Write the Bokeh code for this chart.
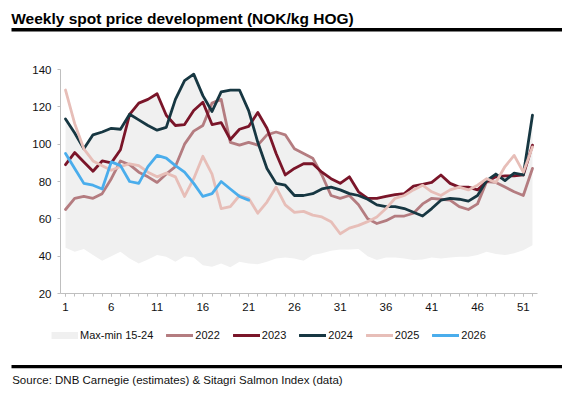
from bokeh.plotting import figure
from bokeh.models import (Range1d, FixedTicker, Legend, LegendItem, Label,
                          BoxAnnotation, LinearAxis)
from bokeh.embed import file_html
from bokeh.resources import INLINE

# ---------------- data ----------------
weeks = list(range(1, 53))
weeks_2026 = list(range(1, 22))
x_tick_weeks = [1, 6, 11, 16, 21, 26, 31, 36, 41, 46, 51]
y_ticks = [20, 40, 60, 80, 100, 120, 140]

band_min = [44.5, 42.3, 43.8, 40.6, 37.5, 40.0, 42.3, 38.8, 36.1, 38.2,
            40.6, 39.7, 37.0, 40.0, 39.3, 35.2, 34.3, 36.1, 34.0, 37.0,
            36.1, 35.7, 37.0, 38.8, 39.3, 38.8, 37.5, 40.6, 41.5, 42.9,
            43.6, 43.6, 43.9, 40.0, 37.9, 39.3, 39.3, 38.8, 37.9, 38.2,
            39.3, 38.8, 39.3, 39.7, 39.7, 40.6, 42.3, 41.1, 40.6, 41.5,
            43.2, 45.9]
band_max = [113.5, 106, 97.5, 105, 106.5, 108.5, 108, 116, 122, 124,
            127, 115.5, 124, 134, 137.5, 126, 122, 128, 129, 129,
            118, 117, 108.5, 106.5, 105, 97.5, 95, 92.5, 85, 81.5,
            79, 82.5, 74.5, 71, 71, 72, 73, 73.5, 77.5, 78.5,
            79.5, 83.5, 79, 77, 77, 75.5, 80.5, 84, 83, 84.5,
            83.5, 115.5]
y2022 = [65, 71, 72, 71, 73.5, 81.5, 91, 89, 85, 82.5,
         79.5, 84, 88, 100, 107, 110, 122, 124, 101, 99.5,
         101, 99.5, 105, 106.5, 105, 97.5, 95, 92.5, 83.5, 72.5,
         71, 72.5, 67.5, 60, 57.5, 59, 61.5, 61.5, 63, 68,
         71, 70.5, 70, 66.5, 65, 68, 80, 79.5, 77, 74.5,
         72.5, 87]
y2023 = [89, 95.5, 90.5, 85.5, 91, 90, 97, 116, 122, 124,
         127, 115.5, 110, 110.5, 118, 122.5, 110.5, 111.5, 102.5, 108,
         109.5, 117, 108.5, 95, 83.5, 87, 89.5, 89.5, 85, 81.5,
         79, 82.5, 74.5, 71, 71, 72, 73, 73.5, 77.5, 78.5,
         79.5, 83.5, 79, 77, 77, 75.5, 80, 82.5, 83, 83,
         83.5, 99.5]
y2024 = [113.5, 106, 97.5, 105, 106.5, 108.5, 108, 116, 113, 110,
         107.5, 109, 124, 134, 137.5, 126, 117.5, 128, 129, 129,
         118, 101, 87, 79, 78, 72.5, 72.5, 73.5, 76, 77,
         75.5, 73.5, 72.5, 70.5, 67.5, 66.5, 66.5, 65.5, 63.5, 61.5,
         65.5, 70, 71, 70.5, 69.5, 72.5, 80.5, 84, 80.5, 84.5,
         83.5, 115.5]
y2025 = [129, 111, 97.5, 91, 88.5, 86, 88, 89.5, 88.5, 85,
         82.5, 84.5, 82.5, 72, 81.5, 93.5, 84, 65.5, 66.5, 72.5,
         71, 63, 69, 77, 67.5, 63.5, 64, 62, 61, 58.5,
         52, 55, 56.5, 58.5, 61, 65.5, 71, 72.5, 75.5, 78,
         74.5, 72.5, 75.5, 77, 75.5, 78, 81.5, 79.5, 88, 94,
         85, 98.5]
y2026 = [95, 87, 79, 78, 76, 90.5, 88.5, 80, 79, 88,
         94, 92.5, 88.5, 85, 79, 72, 73.5, 80, 76, 72,
         70]

# ---------------- layout / styles ----------------
FONT = "Liberation Sans"
C_BAND = "#F0F0F0"
C22 = "#B47C80"
C23 = "#7A1529"
C24 = "#173742"
C25 = "#E7BEB8"
C26 = "#4AADEC"
AXIS_C = "#BFBFBF"
LW = 2.8

W, H = 562, 407
X0, X1 = 0.45, 52.55          # data extent of the plotting area
Y0, Y1 = 20, 140
PX_L, PX_R = 60, 537          # pixel position of the plotting area
PX_T, PX_B = 69, 293
sx = (PX_R - PX_L) / (X1 - X0)
sy = (PX_B - PX_T) / (Y1 - Y0)
x_range = Range1d(X0 - PX_L / sx, X1 + (W - PX_R) / sx)
y_range = Range1d(Y0 - (H - PX_B) / sy, Y1 + PX_T / sy)

p = figure(width=W, height=H, x_range=x_range, y_range=y_range,
           output_backend="svg", toolbar_location=None,
           x_axis_location=None, y_axis_location=None, min_border=0)
p.outline_line_color = None
p.grid.visible = False

r_band = p.varea(x=weeks, y1=band_min, y2=band_max, color=C_BAND)
r_band_key = p.line(weeks, band_min, line_color=C_BAND, line_width=7, visible=False)
r22 = p.line(weeks, y2022, line_color=C22, line_width=LW, line_join="round", line_cap="round")
r23 = p.line(weeks, y2023, line_color=C23, line_width=LW, line_join="round", line_cap="round")
r24 = p.line(weeks, y2024, line_color=C24, line_width=LW, line_join="round", line_cap="round")
r25 = p.line(weeks, y2025, line_color=C25, line_width=LW, line_join="round", line_cap="round")
r26 = p.line(weeks_2026, y2026, line_color=C26, line_width=LW, line_join="round", line_cap="round")

xaxis = LinearAxis(ticker=FixedTicker(ticks=x_tick_weeks, minor_ticks=weeks),
                   fixed_location=Y0, bounds=(X0, X1))
yaxis = LinearAxis(ticker=FixedTicker(ticks=y_ticks, minor_ticks=[]),
                   fixed_location=X0, bounds=(Y0, Y1))
for ax in (xaxis, yaxis):
    ax.axis_line_color = AXIS_C
    ax.major_tick_line_color = AXIS_C
    ax.minor_tick_line_color = AXIS_C
    ax.major_tick_in = 0
    ax.major_tick_out = 3
    ax.minor_tick_in = 0
    ax.minor_tick_out = 3
    ax.major_label_text_font = FONT
    ax.major_label_text_font_size = "11.5px"
    ax.major_label_text_color = "#111111"
    ax.major_label_standoff = 6
p.add_layout(xaxis, "below")
p.add_layout(yaxis, "left")

legend = Legend(items=[LegendItem(label="Max-min 15-24", renderers=[r_band_key]),
                       LegendItem(label="2022", renderers=[r22]),
                       LegendItem(label="2023", renderers=[r23]),
                       LegendItem(label="2024", renderers=[r24]),
                       LegendItem(label="2025", renderers=[r25]),
                       LegendItem(label="2026", renderers=[r26])],
                orientation="horizontal", location=(51, H - 328 - 14),
                glyph_width=27, glyph_height=14, label_height=14,
                label_standoff=2, spacing=13, padding=0, margin=0,
                border_line_alpha=0, background_fill_alpha=0,
                inactive_fill_alpha=0,
                label_text_font=FONT, label_text_font_size="11px",
                label_text_color="#111111")
p.add_layout(legend)

# title, rules and source text (screen units, y measured from the bottom)
p.add_layout(Label(x=10.7, y=H - 18, x_units="screen", y_units="screen",
                   text="Weekly spot price development (NOK/kg HOG)",
                   text_font=FONT, text_font_size="15.5px", text_font_style="bold",
                   text_baseline="alphabetic", text_color="#000000"))
p.add_layout(BoxAnnotation(left=11, right=W, bottom=H - 31, top=H - 27.4,
                           left_units="screen", right_units="screen",
                           bottom_units="screen", top_units="screen",
                           fill_color="#000000", fill_alpha=1, line_alpha=0))
p.add_layout(BoxAnnotation(left=11, right=W, bottom=H - 367.7, top=H - 364.5,
                           left_units="screen", right_units="screen",
                           bottom_units="screen", top_units="screen",
                           fill_color="#000000", fill_alpha=1, line_alpha=0))
p.add_layout(Label(x=11.7, y=H - 379.2, x_units="screen", y_units="screen",
                   text="Source: DNB Carnegie (estimates) & Sitagri Salmon Index (data)",
                   text_font=FONT, text_font_size="11.5px", text_baseline="alphabetic",
                   text_color="#111111"))

open("out.html", "w").write(file_html(p, INLINE))
